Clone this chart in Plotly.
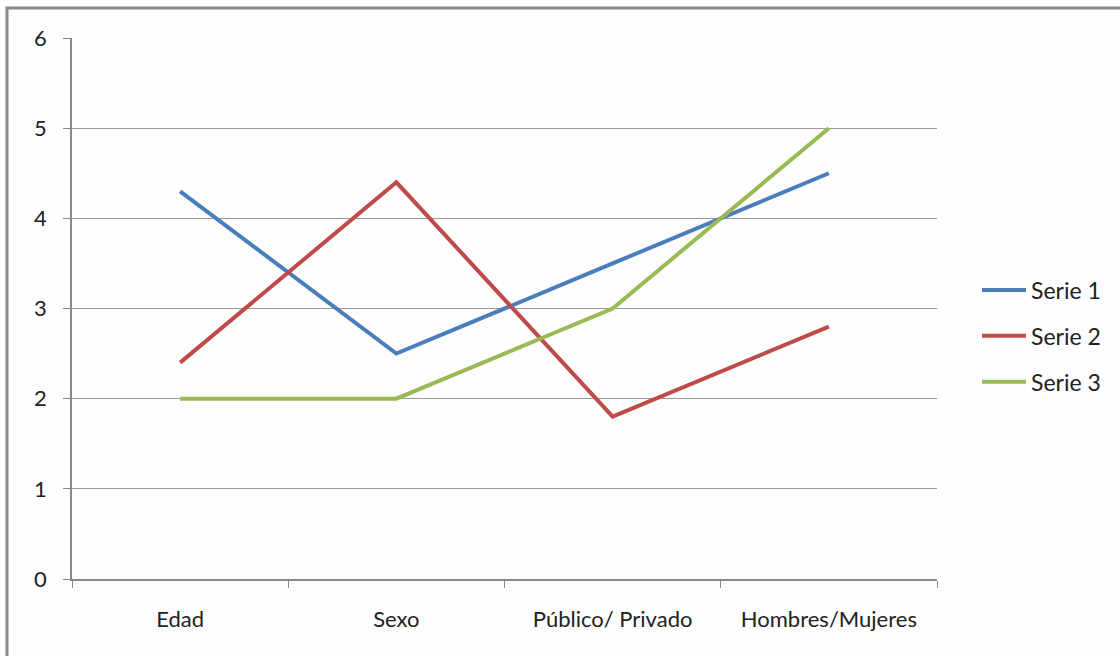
import plotly.graph_objects as go

categories = ["Edad", "Sexo", "Público/ Privado", "Hombres/Mujeres"]
serie1 = [4.3, 2.5, 3.5, 4.5]
serie2 = [2.4, 4.4, 1.8, 2.8]
serie3 = [2, 2, 3, 5]
series_names = ["Serie 1", "Serie 2", "Serie 3"]
colors = ["#4A7EBB", "#BE4B48", "#98B954"]

W, H = 1120, 656
L, R, T, B = 72, 183, 38, 77
pw, ph = W - L - R, H - T - B

fig = go.Figure()
for name, vals, c in zip(series_names, [serie1, serie2, serie3], colors):
    fig.add_trace(go.Scatter(x=categories, y=vals, mode="lines", name=name,
                             legendgroup=name,
                             line=dict(color=c, width=4)))

def px2x(p):
    return (p - L) / pw

def px2y(p):
    return 1 - (p - T) / ph

fig.add_shape(type="rect", xref="paper", yref="paper",
              x0=px2x(7), x1=px2x(1135), y0=px2y(680), y1=px2y(8),
              line=dict(color="#8a8a8a", width=3), fillcolor="rgba(0,0,0,0)", layer="below")

fig.update_layout(
    width=W, height=H,
    margin=dict(l=L, r=R, t=T, b=B),
    paper_bgcolor="#fdfdfd", plot_bgcolor="#fdfdfd",
    font=dict(family="Lato, 'Open Sans', sans-serif", size=23, color="#222"),
    showlegend=True,
    legend=dict(x=px2x(977), y=px2y(336), xanchor="left", yanchor="middle",
                font=dict(size=23), tracegroupgap=13, itemwidth=44,
                bgcolor="rgba(0,0,0,0)"),
    xaxis=dict(type="category", range=[-0.5, 3.5], showgrid=False,
               tickson="boundaries", ticks="outside", ticklen=7, tickcolor="#888",
               showline=True, linecolor="#888", linewidth=1.5, zeroline=False,
               tickfont=dict(size=22), ticklabelstandoff=20),
    yaxis=dict(range=[0, 6], dtick=1, showgrid=True, gridcolor="#9a9a9a", gridwidth=1,
               ticks="outside", ticklen=7, tickcolor="#888",
               showline=True, linecolor="#888", linewidth=1.5, zeroline=False,
               tickfont=dict(size=22), ticklabelstandoff=12),
)

fig.write_html("out.html", config={"displayModeBar": False},
               post_script="document.body.style.margin='0';")
